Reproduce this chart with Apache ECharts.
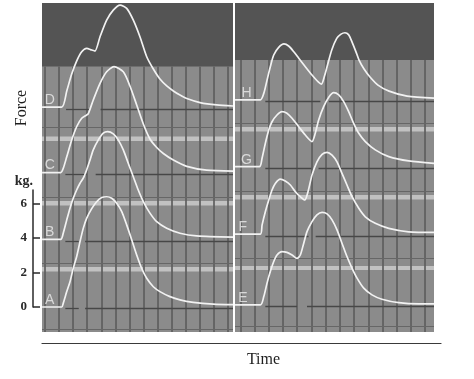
<!DOCTYPE html>
<html><head><meta charset="utf-8">
<script src="https://cdn.jsdelivr.net/npm/echarts@6/dist/echarts.min.js"></script>
<style>html,body{margin:0;padding:0;background:#fff}#c{width:474px;height:379px}</style>
</head><body><div id="c"></div><script>
// Time in grid divisions, force in kg above each trace's own baseline
const traceA = [[-1.2,0],[0.19,0],[0.30,0.21],[0.55,0.89],[0.78,1.46],[1.01,2.24],[1.25,2.91],[1.49,3.78],[1.72,4.55],[1.96,5.13],[2.32,5.69],[2.67,6.09],[3.03,6.33],[3.38,6.38],[3.74,6.29],[4.09,6.00],[4.45,5.52],[4.80,4.75],[5.16,3.88],[5.51,3.01],[5.86,2.24],[6.22,1.66],[6.69,1.17],[7.16,0.89],[7.87,0.60],[8.58,0.41],[9.52,0.27],[10.94,0.17],[12.34,0.14]];
const traceB = [[-1.2,0],[0.12,0],[0.30,0.36],[0.55,1.13],[0.78,1.81],[1.01,2.38],[1.25,2.86],[1.49,3.25],[1.72,3.54],[1.96,4.02],[2.20,4.60],[2.43,5.18],[2.79,5.76],[3.14,6.15],[3.45,6.24],[3.85,6.11],[4.20,5.76],[4.56,5.18],[4.91,4.41],[5.27,3.63],[5.62,2.86],[5.98,2.19],[6.45,1.52],[6.93,1.03],[7.64,0.65],[8.58,0.36],[9.76,0.20],[12.34,0.13]];
const traceC = [[-1.2,0],[0.12,0],[0.30,0.24],[0.55,0.91],[0.90,1.88],[1.25,2.65],[1.61,3.14],[1.96,3.33],[2.08,3.41],[2.43,4.20],[2.91,5.16],[3.38,5.83],[3.90,6.13],[4.56,5.83],[5.03,5.01],[5.51,3.91],[5.98,2.81],[6.45,1.94],[6.93,1.45],[7.40,1.10],[8.11,0.72],[9.06,0.36],[10.47,0.14],[12.34,0.08]];
const traceD = [[-1.2,0],[0.19,0],[0.55,0.93],[0.90,1.91],[1.25,2.66],[1.61,3.20],[1.96,3.40],[2.32,3.30],[2.55,3.24],[2.91,4.07],[3.38,5.03],[3.85,5.61],[4.33,5.90],[4.80,5.71],[5.27,5.03],[5.74,4.07],[6.22,2.91],[6.69,2.20],[7.16,1.62],[7.64,1.22],[8.11,0.93],[8.58,0.69],[9.06,0.49],[10.00,0.26],[11.18,0.12],[12.34,0.06]];
const traceE = [[-0.37,0],[1.41,0],[1.65,0.48],[1.88,1.26],[2.11,1.93],[2.35,2.51],[2.58,2.89],[2.93,3.08],[3.28,3.04],[3.64,2.89],[3.99,2.69],[4.22,2.89],[4.46,3.57],[4.69,4.24],[5.04,4.82],[5.39,5.21],[5.75,5.35],[6.10,5.27],[6.45,4.92],[6.80,4.34],[7.15,3.57],[7.50,2.80],[7.86,2.12],[8.21,1.55],[8.68,0.97],[9.26,0.58],[9.96,0.33],[11.14,0.13],[12.55,0.06],[13.62,0.06]];
const traceF = [[-0.37,0],[1.41,0],[1.53,0.52],[1.76,1.29],[2.00,1.97],[2.23,2.55],[2.46,2.93],[2.81,3.18],[3.16,3.07],[3.52,2.84],[3.87,2.45],[4.22,2.16],[4.53,1.97],[4.76,2.45],[5.04,3.41],[5.39,4.18],[5.75,4.61],[6.10,4.73],[6.45,4.57],[6.80,4.18],[7.15,3.51],[7.50,2.84],[7.86,2.16],[8.33,1.49],[8.79,1.00],[9.49,0.62],[10.44,0.33],[11.84,0.13],[13.62,0.10]];
const traceG = [[-0.37,0],[1.34,0],[1.53,0.49],[1.76,1.35],[2.00,2.12],[2.23,2.60],[2.58,2.99],[2.93,3.18],[3.28,3.09],[3.64,2.80],[4.11,2.31],[4.57,1.83],[5.04,1.45],[5.27,1.93],[5.51,2.70],[5.86,3.47],[6.22,4.02],[6.57,4.28],[6.92,4.15],[7.27,3.76],[7.62,3.18],[7.97,2.51],[8.33,1.93],[8.79,1.45],[9.49,0.97],[10.44,0.58],[11.84,0.33],[13.62,0.19]];
const traceH = [[-0.37,0],[1.41,0],[1.65,0.37],[1.88,1.14],[2.11,1.91],[2.35,2.59],[2.70,3.03],[3.07,3.23],[3.40,3.11],[3.76,2.78],[4.11,2.40],[4.57,1.91],[5.04,1.43],[5.46,1.05],[5.71,0.91],[5.92,1.37],[6.10,1.91],[6.43,2.88],[6.78,3.55],[7.08,3.80],[7.36,3.88],[7.61,3.77],[7.86,3.34],[8.14,2.76],[8.35,2.30],[8.70,1.78],[9.12,1.32],[9.68,0.85],[10.46,0.50],[11.73,0.21],[13.62,0.10]];

const leftNames = ['A','B','C','D'];
const rightNames = ['E','F','G','H'];
const leftOffsets = [0, 3.91, 7.78, 11.57];     // kg baseline of each trace
const rightOffsets = [0.12, 4.22, 8.12, 11.99];
// stimulus marker segments (time ranges) under each trace
const leftStim = [[[0.45,1.4],[1.85,12.34]],[[0.45,1.4],[1.85,12.34]],[[0.45,1.95],[2.6,12.34]],[[0.5,2.2],[2.95,12.34]]];
const rightStim = [[[1.76,3.99],[4.69,13.62]],[[1.76,4.8],[5.3,13.62]],[[1.76,5.0],[5.5,13.62]],[[1.76,5.63],[6.22,13.62]]];
const leftLabelT = [-0.66,-0.66,-0.66,-0.66];
const rightLabelT = [0.18,0.18,0.44,0.44];
const scaleTicks = [0, 2, 4, 6];
const leftGridT = [-1,0,1,2,3,4,5,6,7,8,9,10,11,12];
const rightGridT = [0,1,2,3,4,5,6,7,8,9,10,11,12,13];
const leftHLines = [10.42, 6.37, 2.55, -1.27];
const rightHLines = [10.65, 6.71, 2.84, -1.13];
const leftStripes = [[9.61,9.87],[5.87,6.13],[2.05,2.31]];
const rightStripes = [[10.16,10.42],[6.22,6.48],[2.14,2.37]];
const leftDark = 13.91, rightDark = 14.29;

const Y_MIN = -1.447, Y_MAX = 17.59;
const chart = echarts.init(document.getElementById('c'));

function panel(idx, traces, names, offsets, stims, labelT, gridT, hLines, stripes, dark, tMin, tMax) {
  const s = [];
  s.push({type:'line', xAxisIndex:idx, yAxisIndex:idx, data:[], z:1, silent:true,
    markArea:{silent:true, data:[[{yAxis:dark, itemStyle:{color:'#545454'}},{yAxis:Y_MAX}]]}});
  s.push({type:'line', xAxisIndex:idx, yAxisIndex:idx, data:[], z:2, silent:true,
    markLine:{silent:true, symbol:['none','none'], label:{show:false},
      lineStyle:{type:'solid', color:'#5e5e5e', width:1.7},
      data: gridT.map(t => [{coord:[t,dark]},{coord:[t,Y_MIN]}])
        .concat(hLines.map(y => [{coord:[tMin,y], lineStyle:{width:1.2,color:'#666'}},{coord:[tMax,y]}]))}});
  s.push({type:'line', xAxisIndex:idx, yAxisIndex:idx, data:[], z:3, silent:true,
    markArea:{silent:true, data: stripes.map(r => [{yAxis:r[0], itemStyle:{color:'rgba(200,200,200,0.88)'}},{yAxis:r[1]}])}});
  const stimData = [];
  stims.forEach((segs, i) => segs.forEach(g => stimData.push([{coord:[g[0], offsets[i]-0.1]},{coord:[g[1], offsets[i]-0.1]}])));
  s.push({type:'line', xAxisIndex:idx, yAxisIndex:idx, data:[], z:4, silent:true,
    markLine:{silent:true, symbol:['none','none'], label:{show:false},
      lineStyle:{type:'solid', color:'#474747', width:1.3}, data: stimData}});
  traces.forEach((tr, i) => {
    s.push({type:'line', name:names[i], xAxisIndex:idx, yAxisIndex:idx, z:5, symbol:'none', smooth:0.25,
      lineStyle:{color:'#f2f2f2', width:1.7}, data: tr.map(p => [p[0], p[1] + offsets[i]])});
  });
  s.push({type:'scatter', xAxisIndex:idx, yAxisIndex:idx, z:6, symbolSize:1, silent:true,
    itemStyle:{color:'rgba(0,0,0,0)'},
    label:{show:true, position:'inside', formatter: p => p.name, color:'#ececec',
      fontFamily:'Liberation Sans', fontSize:14},
    data: names.map((n, i) => ({name:n, value:[labelT[i], offsets[i] + 0.4]}))});
  return s;
}

const series = [].concat(
  panel(0, [traceA,traceB,traceC,traceD], leftNames, leftOffsets, leftStim, leftLabelT, leftGridT, leftHLines, leftStripes, leftDark, -1.206, 12.34),
  panel(1, [traceE,traceF,traceG,traceH], rightNames, rightOffsets, rightStim, rightLabelT, rightGridT, rightHLines, rightStripes, rightDark, -0.373, 13.62)
);

const hiddenY = {type:'value', min:Y_MIN, max:Y_MAX, show:false};
chart.setOption({
  animation:false,
  backgroundColor:'#ffffff',
  grid:[
    {left:42, top:3, width:191, height:329, show:true, backgroundColor:'#8b8b8b', borderWidth:0},
    {left:235, top:3, width:199, height:329, show:true, backgroundColor:'#8b8b8b', borderWidth:0},
    {left:33, top:190, width:2, height:117},
    {left:42, top:342.5, width:399, height:1}
  ],
  xAxis:[
    {type:'value', gridIndex:0, min:-1.206, max:12.34, show:false},
    {type:'value', gridIndex:1, min:-0.373, max:13.62, show:false},
    {type:'value', gridIndex:2, min:0, max:1, show:false},
    {type:'value', gridIndex:3, min:0, max:1, axisLine:{show:true, onZero:false, lineStyle:{color:'#3a3a3a', width:1.2}},
      axisTick:{show:false}, axisLabel:{show:false}, splitLine:{show:false}}
  ],
  yAxis:[
    Object.assign({gridIndex:0}, hiddenY),
    Object.assign({gridIndex:1}, hiddenY),
    {type:'value', gridIndex:2, min:0, max:6.77, interval:2, position:'left',
      axisLine:{show:true, lineStyle:{color:'#2a2a2a', width:1.5}},
      axisTick:{show:true, inside:true, length:7, lineStyle:{color:'#2a2a2a', width:1.5},
        customValues: scaleTicks},
      axisLabel:{margin:6, color:'#2a2a2a', fontFamily:'Liberation Serif', fontSize:13, fontWeight:'bold',
        customValues: scaleTicks},
      splitLine:{show:false},
      name:'kg.', nameLocation:'end', nameGap:2,
      nameTextStyle:{color:'#2a2a2a', fontFamily:'Liberation Serif', fontSize:14, fontWeight:'bold', align:'right'}},
    {type:'value', gridIndex:3, show:false}
  ],
  graphic:[
    {type:'text', x:22, y:108, rotation:Math.PI/2,
      style:{text:'Force', fill:'#1e1e1e', font:'16px "Liberation Serif"', textAlign:'center', textVerticalAlign:'middle'}},
    {type:'text', x:263.5, y:360,
      style:{text:'Time', fill:'#1e1e1e', font:'16px "Liberation Serif"', textAlign:'center', textVerticalAlign:'middle'}}
  ],
  series: series
});
</script></body></html>
